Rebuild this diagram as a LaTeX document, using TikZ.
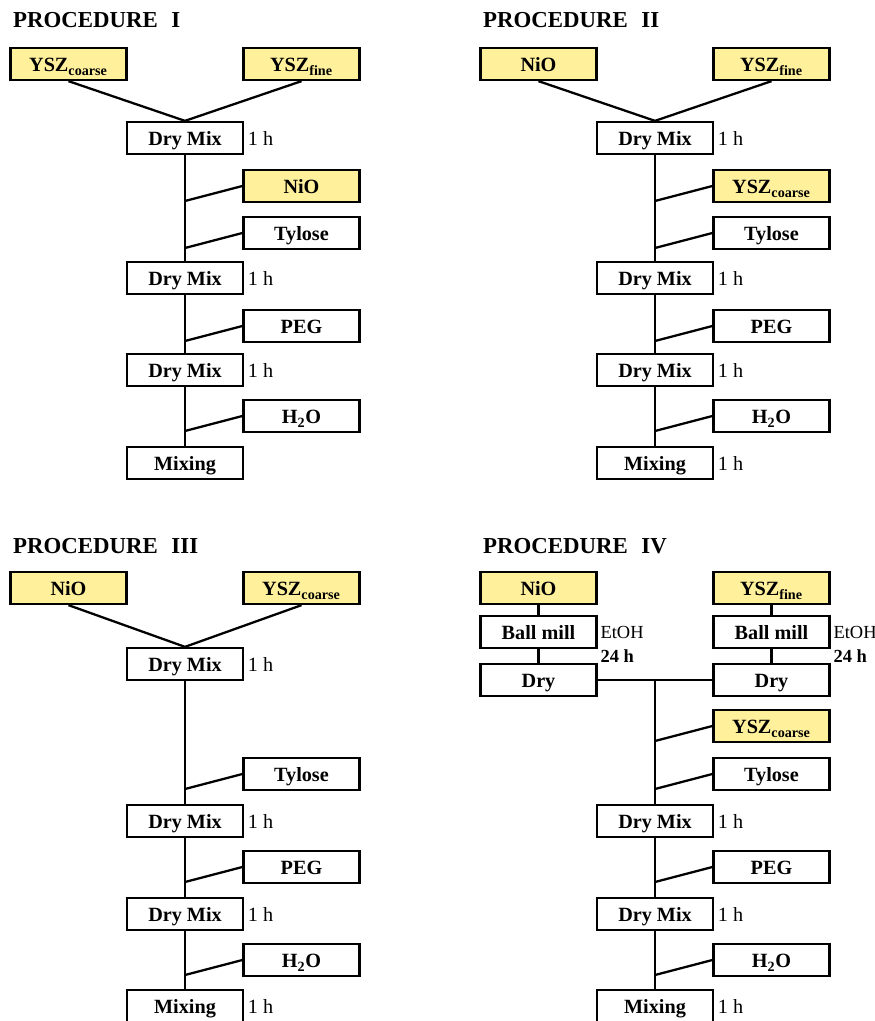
\documentclass[tikz,border=0pt]{standalone}
\usepackage{fontspec}
\setmainfont{Liberation Serif}
\usetikzlibrary{positioning,calc}
\definecolor{powder}{RGB}{255,240,155}
\newcommand{\ysz}[1]{YSZ\textsubscript{#1}}

\begin{document}
\begin{tikzpicture}[x=0.02cm, y=-0.02cm, line width=1.3pt,
  stepbox/.style={draw, fill=white, minimum width=2.32cm, minimum height=0.64cm,
    inner sep=0pt, text height=10pt, text depth=1pt,
    font=\fontsize{11.5}{13}\selectfont\bfseries},
  rawbox/.style={stepbox, fill=powder},
  timelbl/.style={anchor=west, inner sep=1.5pt, font=\fontsize{11.5}{13}\selectfont},
  milllbl/.style={anchor=west, inner sep=1pt, font=\fontsize{10.5}{12}\selectfont},
  proctitle/.style={anchor=west, inner sep=0pt, font=\fontsize{13}{15}\selectfont\bfseries}]
\useasboundingbox (0,0) rectangle (875,1021);
% Procedure I (top left)
\node[proctitle] (aT) at (12,20) {PROCEDURE\hspace{0.6em}I};
\node[rawbox] (aYc) at (68.5,64) {\ysz{coarse}};
\node[rawbox] (aYf) at (301.5,64) {\ysz{fine}};
\node[stepbox] (aM1) at (185,138) {Dry Mix};
\node[rawbox] (aNiO) at (301.5,186) {NiO};
\node[stepbox] (aTy) at (301.5,233) {Tylose};
\node[stepbox] (aM2) at (185,278) {Dry Mix};
\node[stepbox] (aPEG) at (301.5,326) {PEG};
\node[stepbox] (aM3) at (185,370) {Dry Mix};
\node[stepbox] (aW) at (301.5,416) {H\textsubscript{2}O};
\node[stepbox] (aMx) at (185,463) {Mixing};
\node[timelbl] (aH1) at (aM1.east) {1 h};
\node[timelbl] (aH2) at (aM2.east) {1 h};
\node[timelbl] (aH3) at (aM3.east) {1 h};
\draw (aYc.south) -- (aM1.north) -- (aYf.south);
\draw (aM1) -- (aM2) -- (aM3) -- (aMx);
\draw (aNiO.west) -- ($(aNiO.west -| aM1.south)+(0,15)$);
\draw (aTy.west) -- ($(aTy.west -| aM1.south)+(0,15)$);
\draw (aPEG.west) -- ($(aPEG.west -| aM1.south)+(0,15)$);
\draw (aW.west) -- ($(aW.west -| aM1.south)+(0,15)$);
% Procedure II (top right)
\node[proctitle] (bT) at (482,20) {PROCEDURE\hspace{0.6em}II};
\node[rawbox] (bNiO) at (538.5,64) {NiO};
\node[rawbox] (bYf) at (771.5,64) {\ysz{fine}};
\node[stepbox] (bM1) at (655,138) {Dry Mix};
\node[rawbox] (bYc) at (771.5,186) {\ysz{coarse}};
\node[stepbox] (bTy) at (771.5,233) {Tylose};
\node[stepbox] (bM2) at (655,278) {Dry Mix};
\node[stepbox] (bPEG) at (771.5,326) {PEG};
\node[stepbox] (bM3) at (655,370) {Dry Mix};
\node[stepbox] (bW) at (771.5,416) {H\textsubscript{2}O};
\node[stepbox] (bMx) at (655,463) {Mixing};
\node[timelbl] (bH1) at (bM1.east) {1 h};
\node[timelbl] (bH2) at (bM2.east) {1 h};
\node[timelbl] (bH3) at (bM3.east) {1 h};
\node[timelbl] (bH4) at (bMx.east) {1 h};
\draw (bNiO.south) -- (bM1.north) -- (bYf.south);
\draw (bM1) -- (bM2) -- (bM3) -- (bMx);
\draw (bYc.west) -- ($(bYc.west -| bM1.south)+(0,15)$);
\draw (bTy.west) -- ($(bTy.west -| bM1.south)+(0,15)$);
\draw (bPEG.west) -- ($(bPEG.west -| bM1.south)+(0,15)$);
\draw (bW.west) -- ($(bW.west -| bM1.south)+(0,15)$);
% Procedure III (bottom left)
\node[proctitle] (cT) at (12,546) {PROCEDURE\hspace{0.6em}III};
\node[rawbox] (cNiO) at (68.5,588) {NiO};
\node[rawbox] (cYc) at (301.5,588) {\ysz{coarse}};
\node[stepbox] (cM1) at (185,664) {Dry Mix};
\node[stepbox] (cTy) at (301.5,774) {Tylose};
\node[stepbox] (cM2) at (185,821) {Dry Mix};
\node[stepbox] (cPEG) at (301.5,867) {PEG};
\node[stepbox] (cM3) at (185,914) {Dry Mix};
\node[stepbox] (cW) at (301.5,960) {H\textsubscript{2}O};
\node[stepbox] (cMx) at (185,1006) {Mixing};
\node[timelbl] (cH1) at (cM1.east) {1 h};
\node[timelbl] (cH2) at (cM2.east) {1 h};
\node[timelbl] (cH3) at (cM3.east) {1 h};
\node[timelbl] (cH4) at (cMx.east) {1 h};
\draw (cNiO.south) -- (cM1.north) -- (cYc.south);
\draw (cM1) -- (cM2) -- (cM3) -- (cMx);
\draw (cTy.west) -- ($(cTy.west -| cM1.south)+(0,15)$);
\draw (cPEG.west) -- ($(cPEG.west -| cM1.south)+(0,15)$);
\draw (cW.west) -- ($(cW.west -| cM1.south)+(0,15)$);
% Procedure IV (bottom right)
\node[proctitle] (dT) at (482,546) {PROCEDURE\hspace{0.6em}IV};
\node[rawbox] (dNiO) at (538.5,588) {NiO};
\node[stepbox] (dBL) at (538.5,632) {Ball mill};
\node[stepbox] (dDL) at (538.5,680) {Dry};
\node[rawbox] (dYf) at (771.5,588) {\ysz{fine}};
\node[stepbox] (dBR) at (771.5,632) {Ball mill};
\node[stepbox] (dDR) at (771.5,680) {Dry};
\node[milllbl] (dEL) at (dBL.east) {EtOH};
\node[milllbl, font=\fontsize{10.5}{12}\selectfont\bfseries] (dTL) at ($(dBL.east)+(0,24)$) {24 h};
\node[milllbl] (dER) at (dBR.east) {EtOH};
\node[milllbl, font=\fontsize{10.5}{12}\selectfont\bfseries] (dTR) at ($(dBR.east)+(0,24)$) {24 h};
\node[rawbox] (dYc) at (771.5,726) {\ysz{coarse}};
\node[stepbox] (dTy) at (771.5,774) {Tylose};
\node[stepbox] (dM1) at (655,821) {Dry Mix};
\node[stepbox] (dPEG) at (771.5,867) {PEG};
\node[stepbox] (dM2) at (655,914) {Dry Mix};
\node[stepbox] (dW) at (771.5,960) {H\textsubscript{2}O};
\node[stepbox] (dMx) at (655,1006) {Mixing};
\node[timelbl] (dH1) at (dM1.east) {1 h};
\node[timelbl] (dH2) at (dM2.east) {1 h};
\node[timelbl] (dH3) at (dMx.east) {1 h};
\draw (dNiO) -- (dBL) -- (dDL);
\draw (dYf) -- (dBR) -- (dDR);
\draw (dDL) -- (dDR);
\coordinate (dJ) at (dDL.east -| dM1.north);
\draw (dJ) -- (dM1) -- (dM2) -- (dMx);
\draw (dYc.west) -- ($(dYc.west -| dM1.north)+(0,15)$);
\draw (dTy.west) -- ($(dTy.west -| dM1.north)+(0,15)$);
\draw (dPEG.west) -- ($(dPEG.west -| dM1.south)+(0,15)$);
\draw (dW.west) -- ($(dW.west -| dM1.south)+(0,15)$);
\end{tikzpicture}
\end{document}
